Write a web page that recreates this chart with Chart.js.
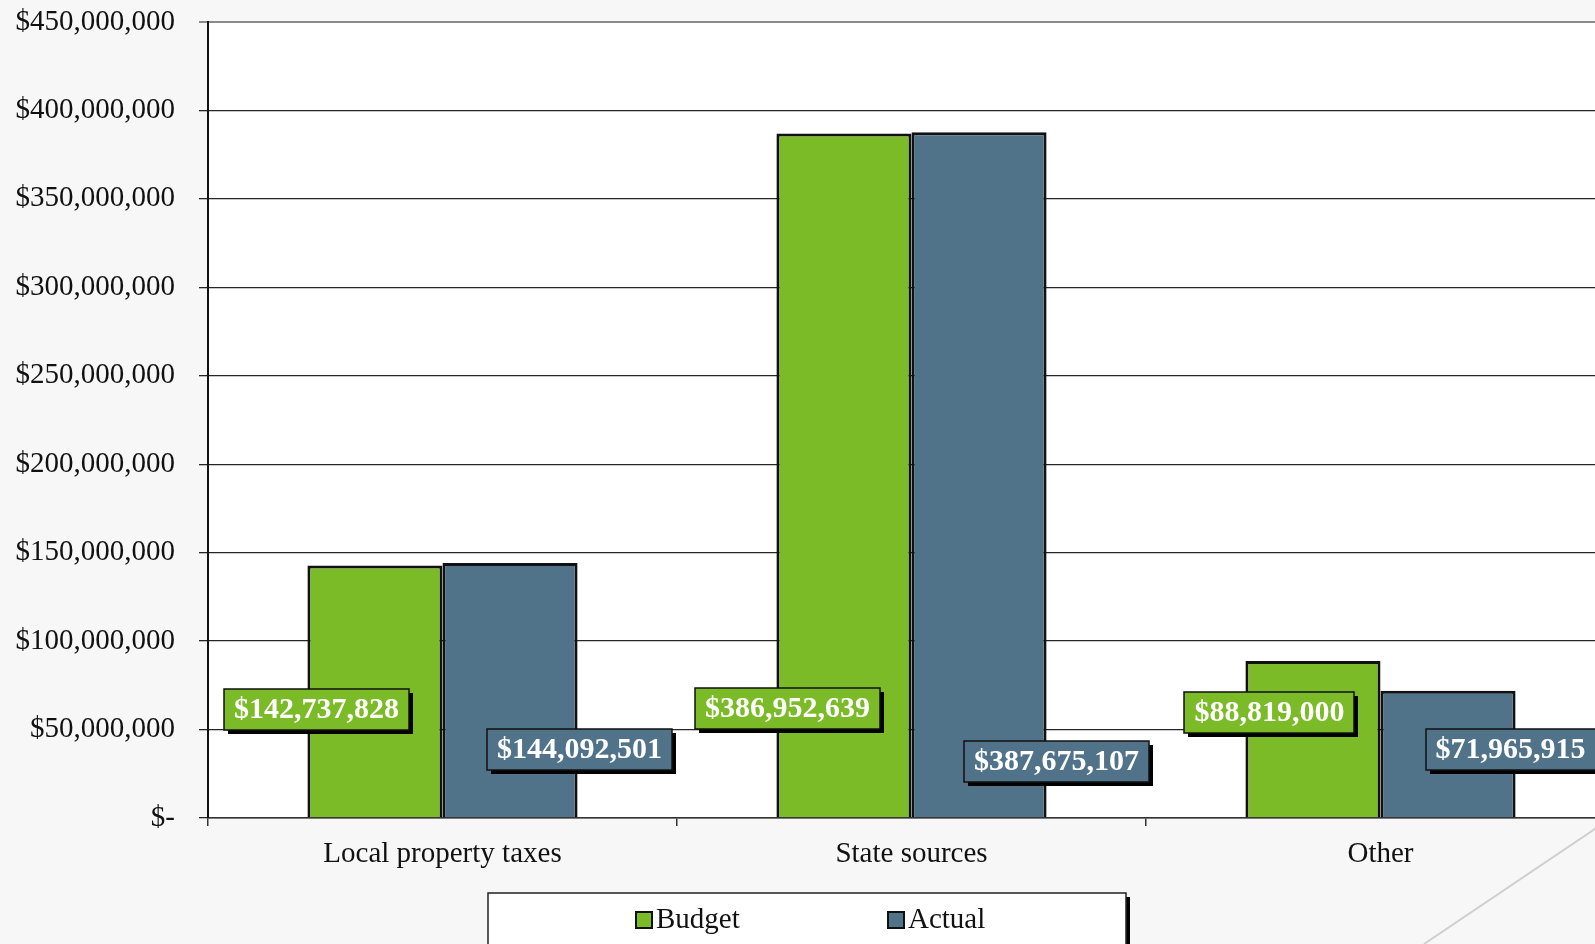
<!DOCTYPE html>
<html>
<head>
<meta charset="utf-8">
<title>Revenue: Budget vs Actual</title>
<script src="https://cdn.jsdelivr.net/npm/chart.js@4/dist/chart.umd.min.js"></script>
<style>
  html, body { margin: 0; padding: 0; background: #f7f7f7; overflow: hidden; }
  #wrap { width: 1620px; height: 944px; }
</style>
</head>
<body>
<div id="wrap"><canvas id="revenueChart" width="1620" height="944"></canvas></div>
<script>
const categories = ['Local property taxes', 'State sources', 'Other'];
const budgetValues = [142737828, 386952639, 88819000];
const actualValues = [144092501, 387675107, 71965915];
const yMax = 450000000;
const yStep = 50000000;

const GREEN = '#7bbb28';
const BLUE = '#517389';
const FONT = '"Liberation Serif", "Times New Roman", serif';

// label placement: dx from the bar's outer edge, dy up from the baseline
const labelPlacement = [
  [{ dx: 9, dy: 109 }, { dx: 2, dy: 69 }],
  [{ dx: 11, dy: 110 }, { dx: 10, dy: 57 }],
  [{ dx: 24, dy: 106 }, { dx: -5, dy: 69 }]
];

function money(v) {
  return '$' + v.toLocaleString('en-US');
}

// plot area white, slide line behind everything
const backdrop = {
  id: 'backdrop',
  beforeDraw(chart) {
    const { ctx, chartArea } = chart;
    ctx.save();
    ctx.strokeStyle = '#cfcfcf';
    ctx.lineWidth = 2;
    ctx.beginPath();
    ctx.moveTo(1424, 944);
    ctx.lineTo(1620, 812);
    ctx.stroke();
    ctx.fillStyle = '#ffffff';
    ctx.fillRect(chartArea.left, chartArea.top, chartArea.right - chartArea.left, chartArea.bottom - chartArea.top);
    ctx.restore();
  }
};

// boxed value labels with a drop shadow
const valueLabels = {
  id: 'valueLabels',
  afterDatasetsDraw(chart) {
    const { ctx } = chart;
    const base = chart.scales.y.getPixelForValue(0);
    ctx.save();
    ctx.font = 'bold 30px ' + FONT;
    ctx.textAlign = 'center';
    ctx.textBaseline = 'middle';
    chart.data.datasets.forEach((ds, di) => {
      const meta = chart.getDatasetMeta(di);
      meta.data.forEach((bar, i) => {
        const p = labelPlacement[i][di];
        const edge = di === 0 ? bar.x - bar.width / 2 : bar.x + bar.width / 2;
        const cx = edge + p.dx;
        const cy = base - p.dy;
        const text = money(ds.data[i]);
        const w = ctx.measureText(text).width + 20;
        const h = 41;
        const x = Math.round(cx - w / 2);
        const y = Math.round(cy - h / 2);
        ctx.fillStyle = '#000';
        ctx.fillRect(x + 4, y + 4, w, h);
        ctx.fillStyle = ds.backgroundColor;
        ctx.fillRect(x, y, w, h);
        ctx.strokeStyle = '#111';
        ctx.lineWidth = 1.5;
        ctx.strokeRect(x, y, w, h);
        ctx.fillStyle = '#ffffff';
        ctx.fillText(text, cx, cy + 1);
      });
    });
    ctx.restore();
  }
};

// legend box at the bottom
const boxLegend = {
  id: 'boxLegend',
  afterDraw(chart) {
    const { ctx } = chart;
    const left = 488, top = 893, right = 1126, bottom = 960;
    ctx.save();
    ctx.fillStyle = '#000';
    ctx.fillRect(right, top + 4, 4, bottom - top);
    ctx.fillStyle = '#fff';
    ctx.fillRect(left, top, right - left, bottom - top);
    ctx.strokeStyle = '#222';
    ctx.lineWidth = 1.5;
    ctx.strokeRect(left, top, right - left, bottom - top);

    const itemX = [636, 888];
    const cy = 920;
    ctx.font = '29px ' + FONT;
    ctx.textBaseline = 'middle';
    ctx.textAlign = 'left';
    chart.data.datasets.forEach((ds, i) => {
      const x = itemX[i];
      ctx.fillStyle = ds.backgroundColor;
      ctx.fillRect(x, cy - 8, 16, 16);
      ctx.strokeStyle = '#111';
      ctx.lineWidth = 2;
      ctx.strokeRect(x, cy - 8, 16, 16);
      ctx.fillStyle = '#111';
      ctx.fillText(ds.label, x + 20, cy);
    });
    ctx.restore();
  }
};

const ctx = document.getElementById('revenueChart').getContext('2d');
new Chart(ctx, {
  type: 'bar',
  data: {
    labels: categories,
    datasets: [
      {
        label: 'Budget',
        data: budgetValues,
        backgroundColor: GREEN,
        borderColor: '#111',
        borderWidth: 3,
        categoryPercentage: 0.576,
        barPercentage: 1.0
      },
      {
        label: 'Actual',
        data: actualValues,
        backgroundColor: BLUE,
        borderColor: '#111',
        borderWidth: 3,
        categoryPercentage: 0.576,
        barPercentage: 1.0
      }
    ]
  },
  options: {
    responsive: false,
    animation: false,
    layout: { padding: { left: 0, top: 22, right: 5, bottom: 0 } },
    plugins: {
      legend: { display: false },
      tooltip: { enabled: false }
    },
    scales: {
      x: {
        afterFit: (scale) => { scale.height = 126; },
        grid: {
          offset: true,
          drawOnChartArea: false,
          tickLength: 8,
          color: '#333',
          lineWidth: 1.5
        },
        border: { color: '#333', width: 1.5 },
        ticks: {
          color: '#111',
          padding: 11,
          maxRotation: 0,
          font: { family: FONT, size: 29 }
        }
      },
      y: {
        min: 0,
        max: yMax,
        // fixed width; the tick padding should not push the plot down
        afterFit: (scale) => {
          scale.width = 208;
          scale.paddingTop = 0;
          scale.paddingBottom = 0;
        },
        grid: {
          tickLength: 9,
          color: (c) => (c.tick && c.tick.value === yMax ? '#8a8a8a' : '#262626'),
          lineWidth: (c) => (c.tick && c.tick.value === yMax ? 2 : 1.3)
        },
        border: { color: '#111', width: 2 },
        ticks: {
          stepSize: yStep,
          color: '#111',
          padding: 24,
          font: { family: FONT, size: 29 },
          callback: (v) => (v === 0 ? '$-' : money(v))
        }
      }
    }
  },
  plugins: [backdrop, valueLabels, boxLegend]
});
</script>
</body>
</html>
